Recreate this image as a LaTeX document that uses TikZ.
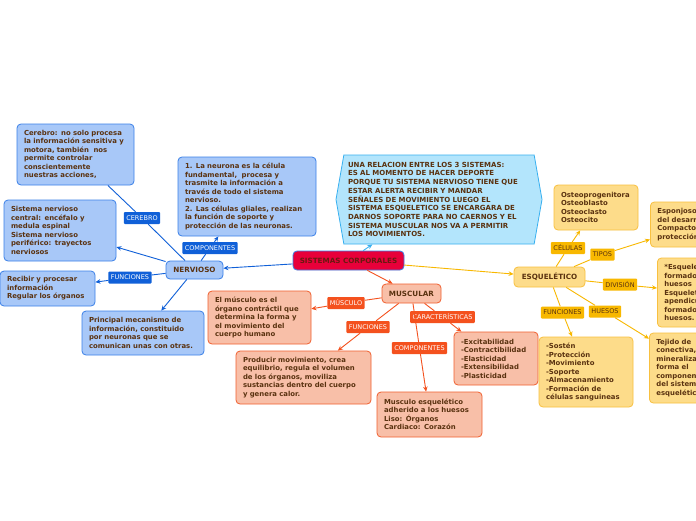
\documentclass[tikz,border=0pt]{standalone}
\usepackage{fontspec}
\setmainfont{DejaVu Sans}
\usepackage{xcolor}
\usepackage{tikz}
\usetikzlibrary{arrows.meta,shapes.symbols}
\definecolor{txt}{HTML}{5A3210}
\definecolor{bluefill}{HTML}{A8C8F8}
\definecolor{blueline}{HTML}{3A80E8}
\definecolor{bluedark}{HTML}{1060D8}
\definecolor{cyanfill}{HTML}{B3E5FC}
\definecolor{cyanline}{HTML}{38B0F0}
\definecolor{redfill}{HTML}{E8003A}
\definecolor{redtxt}{HTML}{6A1A10}
\definecolor{orfill}{HTML}{F8BFA8}
\definecolor{orline}{HTML}{F06030}
\definecolor{ordark}{HTML}{F4511E}
\definecolor{yefill}{HTML}{FDDC8A}
\definecolor{yeline}{HTML}{F8C040}
\definecolor{yedark}{HTML}{F8B800}
\tikzset{
  box/.style={rounded corners=4pt, line width=0.8pt, align=left, text=txt,
    font=\fontsize{6.9}{8.5}\selectfont\bfseries, inner xsep=7pt, inner ysep=4pt},
  bbox/.style={box, draw=blueline, fill=bluefill},
  obox/.style={box, draw=orline, fill=orfill},
  ybox/.style={box, draw=yeline, fill=yefill},
  topic/.style={box, align=center, inner xsep=2pt, font=\fontsize{7.2}{8}\selectfont\bfseries},
  lab/.style={rounded corners=1pt, inner xsep=2.5pt, inner ysep=1.5pt,
    font=\fontsize{6.5}{7}\selectfont, minimum height=12pt},
  blab/.style={lab, fill=bluedark, text=white},
  olab/.style={lab, fill=ordark, text=white},
  ylab/.style={lab, fill=yedark, text=txt},
  bcon/.style={draw=bluedark, line width=0.9pt},
  ocon/.style={draw=ordark, line width=0.9pt},
  ycon/.style={draw=yedark, line width=0.9pt},
  arr/.style={-{Stealth[length=5pt,width=4.5pt]}}
}
\begin{document}
\begin{tikzpicture}[x=1pt,y=-1pt]
  \useasboundingbox (0,0) rectangle (696,520);
  \clip (0,0) rectangle (696,520);
  \fill[white] (0,0) rectangle (696,520);

  % main topics
  \node[topic, draw=blueline, fill=redfill, text=redtxt, minimum width=111pt, minimum height=19pt] (sc) at (348.5,260.5) {SISTEMAS CORPORALES};
  \node[topic, draw=blueline, fill=bluefill, minimum width=57pt, minimum height=18pt] (nerv) at (194.5,270) {NERVIOSO};
  \node[topic, draw=orline, fill=orfill, minimum width=59pt, minimum height=19pt] (mus) at (411.5,293.5) {MUSCULAR};
  \node[topic, draw=yeline, fill=yefill, minimum width=71pt, minimum height=20pt] (esq) at (549.5,277) {ESQUELÉTICO};

  \node[shape=signal, signal to=west and east, signal pointer angle=160, draw=cyanline, fill=cyanfill,
    line width=0.8pt, align=left, text=txt, font=\fontsize{7}{8.7}\selectfont\bfseries,
    text width=182pt, minimum width=206pt, minimum height=89pt] (rel) at (439,199.5)
    {UNA RELACION ENTRE LOS 3 SISTEMAS:\\ES AL MOMENTO DE HACER DEPORTE\\PORQUE TU SISTEMA NERVIOSO TIENE QUE\\ESTAR ALERTA RECIBIR Y MANDAR\\SEÑALES DE MOVIMIENTO LUEGO EL\\SISTEMA ESQUELETICO SE ENCARGARA DE\\DARNOS SOPORTE PARA NO CAERNOS Y EL\\SISTEMA MUSCULAR NOS VA A PERMITIR\\LOS MOVIMIENTOS.};

  % nervioso
  \node[bbox, text width=103pt, minimum height=61pt] (cer) at (75.5,154.5) {Cerebro: no solo procesa\\la información sensitiva y\\motora, también\ \ nos\\permite controlar\\conscientemente\\nuestras acciones,};
  \node[bbox, text width=98pt, minimum height=61pt] (snc) at (60,230.5) {Sistema nervioso\\central: encéfalo y\\medula espinal\\Sistema nervioso\\periférico: trayectos\\nerviosos};
  \node[bbox, text width=81pt, minimum height=35pt] (rec) at (47.5,288.5) {Recibir y procesar\\información\\Regular los órganos};
  \node[bbox, text width=108pt, minimum height=44pt] (pri) at (143,333) {Principal mecanismo de\\información, constituido\\por neuronas que se\\comunican unas con otras.};
  \node[bbox, text width=124pt, minimum height=79pt] (neu) at (247,196.5) {1. La neurona es la célula\\fundamental,\ \ procesa y\\trasmite la información a\\través de todo el sistema\\nervioso.\\2. Las células gliales, realizan\\la función de soporte y\\protección de las neuronas.};

  \node[blab] (lcer) at (142,218) {CEREBRO};
  \node[blab] (lcomp) at (210,248) {COMPONENTES};
  \node[blab] (lfun) at (130,277.5) {FUNCIONES};

  % muscular
  \node[obox, text width=89pt, minimum height=53pt] (elm) at (259.5,317.5) {El músculo es el\\órgano contráctil que\\determina la forma y\\el movimiento del\\cuerpo humano};
  \node[obox, text width=121pt, minimum height=53pt] (pro) at (303.5,377.5) {Producir movimiento, crea\\equilibrio, regula el volumen\\de los órganos, moviliza\\sustancias dentro del cuerpo\\y genera calor.};
  \node[obox, text width=70pt, minimum height=53pt] (exc) at (496,358.5) {-Excitabilidad\\-Contractibilidad\\-Elasticidad\\-Extensibilidad\\-Plasticidad};
  \node[obox, text width=91pt, minimum height=45pt] (mes) at (429.5,414.5) {Musculo esquelético\\adherido a los huesos\\Liso: Órganos\\Cardiaco: Corazón};

  \node[olab] (lmus) at (346,303) {MÚSCULO};
  \node[olab] (lofun) at (368,327) {FUNCIONES};
  \node[olab] (lcar) at (442.5,317) {CARACTERÍSTICAS};
  \node[olab] (locomp) at (419.5,348) {COMPONENTES};

  % esqueletico
  \node[ybox, text width=70pt, minimum height=45pt] (ost) at (596,207.5) {Osteoprogenitora\\Osteoblasto\\Osteoclasto\\Osteocito};
  \node[ybox, text width=80pt, minimum height=45pt, anchor=west] (esp) at (650,224.5) {Esponjoso: parte\\del desarrollo\\Compacto: da\\protección.};
  \node[ybox, text width=80pt, minimum height=69pt, anchor=west] (dvb) at (657,292.5) {*Esqueleto axial\\formado por\\huesos\\*Esqueleto\\apendicular\\formado por\\huesos.};
  \node[ybox, text width=80pt, minimum height=70pt] (sos) at (586,372) {-Sostén\\-Protección\\-Movimiento\\-Soporte\\-Almacenamiento\\-Formación de\\células sanguineas};
  \node[ybox, text width=80pt, minimum height=70pt, anchor=west] (tej) at (649,368) {Tejido de\\conectiva,\\mineralizado\\forma el\\componente\\del sistema\\esquelético};

  \node[ylab] (lcel) at (568,248) {CÉLULAS};
  \node[ylab] (ltip) at (602.5,254.5) {TIPOS};
  \node[ylab] (ldiv) at (620,284.5) {DIVISIÓN};
  \node[ylab] (lyfun) at (562.5,312.5) {FUNCIONES};
  \node[ylab] (lhue) at (605,311.5) {HUESOS};

  % connectors
  \draw[bcon,arr] (sc) -- (nerv);
  \draw[draw=cyanline, line width=0.9pt, arr] (sc) -- (rel);
  \draw[ocon,arr] (sc) -- (mus);
  \draw[ycon,arr] (sc) -- (esq);

  \draw[bcon] (nerv) -- (lcer);
  \draw[bcon] (lcer) -- (cer);
  \draw[bcon,arr] (nerv) -- (snc);
  \draw[bcon] (nerv) -- (lfun);
  \draw[bcon,arr] (lfun) -- (rec);
  \draw[bcon,arr] (nerv) -- (pri);
  \draw[bcon] (nerv) -- (lcomp);
  \draw[bcon,arr] (lcomp) -- (neu);

  \draw[ocon] (mus) -- (lmus);
  \draw[ocon,arr] (lmus) -- (elm);
  \draw[ocon] (mus) -- (lofun);
  \draw[ocon,arr] (lofun) -- (pro);
  \draw[ocon] (mus) -- (lcar);
  \draw[ocon,arr] (lcar) -- (exc);
  \draw[ocon] (mus) -- (locomp);
  \draw[ocon,arr] (locomp) -- (mes);

  \draw[ycon] (esq) -- (lcel);
  \draw[ycon,arr] (lcel) -- (ost);
  \draw[ycon] (esq) -- (ltip);
  \draw[ycon,arr] (ltip) -- (esp);
  \draw[ycon] (esq) -- (ldiv);
  \draw[ycon,arr] (ldiv) -- (dvb);
  \draw[ycon] (esq) -- (lyfun);
  \draw[ycon,arr] (lyfun) -- (sos);
  \draw[ycon] (esq) -- (lhue);
  \draw[ycon,arr] (lhue) -- (tej);
\end{tikzpicture}
\end{document}
